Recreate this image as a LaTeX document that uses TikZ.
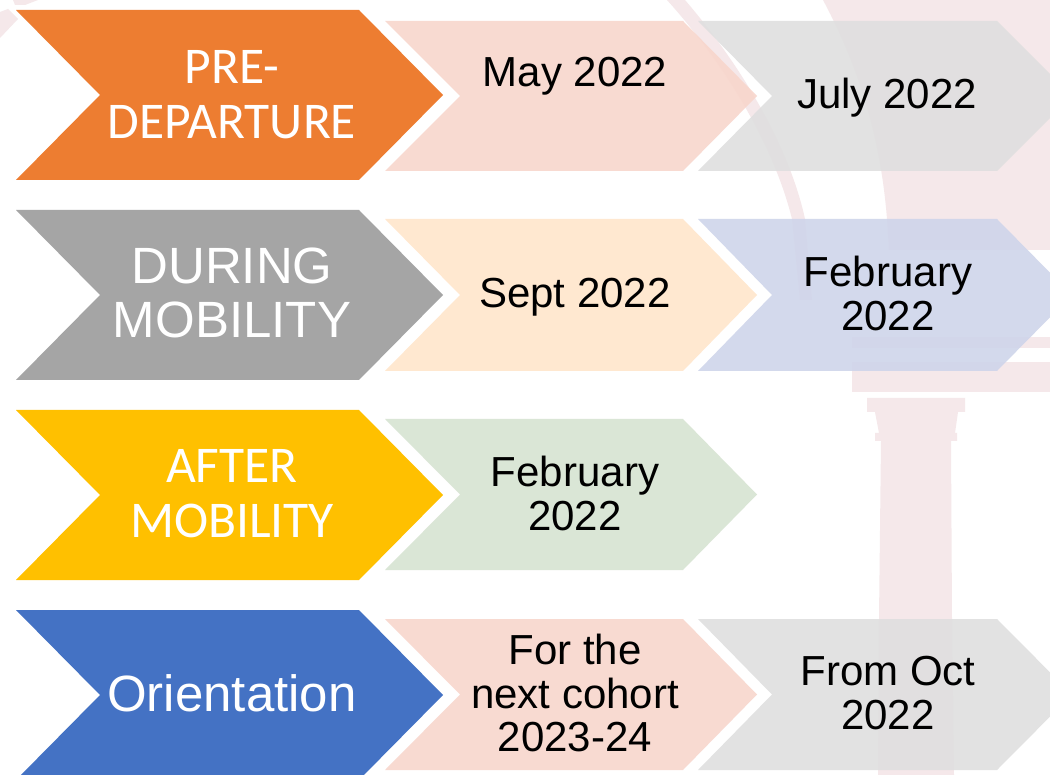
\documentclass[tikz,border=0pt]{standalone}
\usepackage{fontspec}
\setmainfont{Liberation Sans}
\newfontfamily\calib{Carlito}
\definecolor{bgpink}{HTML}{F5E8EA}
\definecolor{corange}{HTML}{ED7D31}
\definecolor{cgray}{HTML}{A5A5A5}
\definecolor{cyellow}{HTML}{FFC000}
\definecolor{cblue}{HTML}{4472C4}
\definecolor{lpink}{HTML}{F8D6CC}
\definecolor{lgray}{HTML}{DFDFDF}
\definecolor{lcream}{HTML}{FFE6CB}
\definecolor{lblue}{HTML}{CFD5EA}
\definecolor{lgreen}{HTML}{D7E4D2}
\tikzset{
  bgshape/.style={fill=bgpink,draw=none},
  mainchev/.style={draw=none},
  subchev/.style={draw=none,fill opacity=0.9},
  whitetxt/.style={text=white,align=center,inner sep=0pt,font=\fontsize{51}{54.5}\selectfont},
  whitecal/.style={text=white,align=center,inner sep=0pt,font=\calib\fontsize{51.5}{55}\selectfont},
  blacktxt/.style={text=black,align=center,inner sep=0pt,font=\fontsize{42}{43.5}\selectfont}
}
% #1 style, #2 left x, #3 top y, #4 bottom y, #5 notch x, #6 shoulder x, #7 apex x
\newcommand{\chevshape}[7]{%
  \path[#1] (#2,#3) -- (#6,#3) -- (#7,{(#3+#4)/2}) -- (#6,#4) -- (#2,#4) -- (#5,{(#3+#4)/2}) -- cycle;}
\begin{document}
\begin{tikzpicture}[x=1pt,y=-1pt]
\useasboundingbox (0,0) rectangle (1050,775);
\clip (0,0) rectangle (1050,775);
\fill[white] (0,0) rectangle (1050,775);
% faded building in the background
\path[bgshape] (823,0) .. controls (855,60) and (880,130) .. (887,219) -- (889,250) -- (1050,250) -- (1050,0) -- cycle;
\path[bgshape] (667,0) -- (685,0) .. controls (745,70) and (790,150) .. (805,219) -- (812,300) -- (800,300) -- (792,219) .. controls (775,150) and (730,70) .. cycle;
\path[bgshape] (852,337) rectangle (1050,348);
\path[bgshape] (852,362) rectangle (1050,392);
\path[bgshape] (867,398) -- (965,398) -- (965,412) -- (958,412) -- (955,433) -- (957,433) -- (957,441) -- (951,441) -- (952,619) -- (954,775) -- (878,775) -- (879,619) -- (881,441) -- (875,441) -- (875,433) -- (879,433) -- (875,412) -- (867,412) -- cycle;
\path[bgshape] (13,0) -- (38,0) -- (25,5) -- (15,5) -- cycle;
\path[bgshape] (0,12) -- (8,9) -- (18,19) -- (0,38) -- cycle;
% row 1
\chevshape{mainchev,fill=corange}{16}{10}{180}{100}{359}{443}
\chevshape{subchev,fill=lpink}{385}{21}{171}{460}{683}{757}
\chevshape{subchev,fill=lgray}{698}{21}{171}{772}{997}{1072}
% row 2
\chevshape{mainchev,fill=cgray}{16}{210}{380}{100}{359}{443}
\chevshape{subchev,fill=lcream}{385}{219}{371}{460}{683}{757}
\chevshape{subchev,fill=lblue}{698}{219}{371}{772}{997}{1072}
% row 3
\chevshape{mainchev,fill=cyellow}{16}{410}{580}{100}{359}{443}
\chevshape{subchev,fill=lgreen}{385}{419}{570}{460}{683}{757}
% row 4
\chevshape{mainchev,fill=cblue}{16}{610}{780}{100}{359}{443}
\chevshape{subchev,fill=lpink}{385}{619}{770}{460}{683}{757}
\chevshape{subchev,fill=lgray}{698}{619}{770}{772}{997}{1072}
% labels
\node[whitecal] (predep) at (232,95) {PRE-\\DEPARTURE};
\node[blacktxt] (may) at (575,76) {May 2022};
\node[blacktxt] (july) at (887,98) {July 2022};
\node[whitetxt] (during) at (232,293) {DURING\\MOBILITY};
\node[blacktxt] (sept) at (575,297.5) {Sept 2022};
\node[blacktxt] (febA) at (888,293.5) {February\\2022};
\node[whitecal] (after) at (232,493.5) {AFTER\\MOBILITY};
\node[blacktxt] (febB) at (575,493.5) {February\\2022};
\node[whitetxt] (orient) at (232,693) {Orientation};
\node[blacktxt] (cohort) at (575,693) {For the\\next cohort\\2023-24};
\node[blacktxt] (oct) at (888,693) {From Oct\\2022};
\end{tikzpicture}
\end{document}
